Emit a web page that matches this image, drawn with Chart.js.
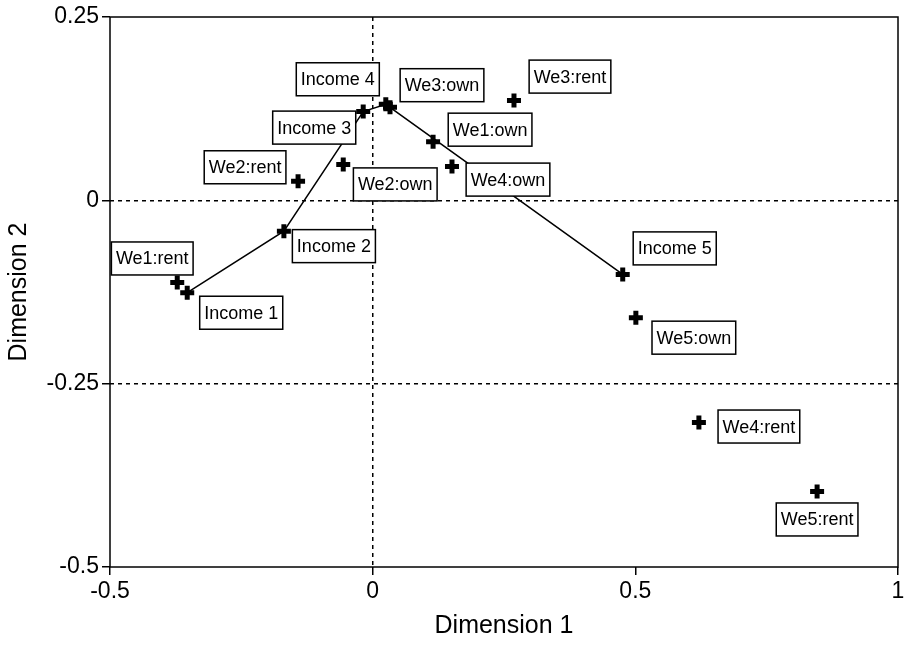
<!DOCTYPE html>
<html>
<head>
<meta charset="utf-8">
<script src="https://cdn.jsdelivr.net/npm/chart.js@4.4.1/dist/chart.umd.min.js"></script>
<style>
  html, body { margin: 0; padding: 0; background: #fff; }
  canvas { display: block; }
</style>
</head>
<body>
<canvas id="mapChart" width="904" height="645"></canvas>
<script>
// Income categories (connected by a line)
const incomeLabels = ["Income 1", "Income 2", "Income 3", "Income 4", "Income 5"];
const incomeX = [-0.353, -0.169, -0.018, 0.025, 0.476];
const incomeY = [-0.126, -0.042, 0.121, 0.131, -0.101];

// Weekly spending x tenure categories
const weLabels = ["We1:rent", "We1:own", "We2:rent", "We2:own", "We3:rent",
                  "We3:own", "We4:rent", "We4:own", "We5:rent", "We5:own"];
const weX = [-0.372, 0.115, -0.142, -0.056, 0.269, 0.033, 0.621, 0.151, 0.846, 0.501];
const weY = [-0.112, 0.080, 0.026, 0.049, 0.136, 0.127, -0.303, 0.046, -0.397, -0.160];

// where each label box sits relative to its point (px)
const incomeBoxOffset = [[54, 20], [50, 15], [-49, 16], [-48, -25], [52, -26]];
const weBoxOffset = [[-25, -24], [57, -12], [-53, -14], [52, 20], [56, -24],
                     [52, -22], [60, 4], [56, 13], [0, 28], [58, 20]];

const FONT = "'Liberation Sans', Arial, Helvetica, sans-serif";

const toPoints = (xs, ys) => xs.map((x, i) => ({ x: x, y: ys[i] }));
const near = (v, t) => Math.abs(v - t) < 1e-9;
const fmt = (v) => String(Number(v.toFixed(2)));

// box around the whole plot
const frame = {
  id: "frame",
  beforeDatasetsDraw(chart) {
    const { ctx, chartArea: a } = chart;
    ctx.save();
    ctx.strokeStyle = "#000";
    ctx.lineWidth = 1.5;
    ctx.strokeRect(a.left, a.top, a.right - a.left, a.bottom - a.top);
    ctx.restore();
  },
};

// boxed text labels next to the points
const boxLabels = {
  id: "boxLabels",
  afterDatasetsDraw(chart) {
    const ctx = chart.ctx;
    ctx.save();
    ctx.font = "18px " + FONT;
    ctx.textAlign = "center";
    ctx.textBaseline = "middle";
    chart.data.datasets.forEach((ds, di) => {
      const meta = chart.getDatasetMeta(di);
      meta.data.forEach((pt, i) => {
        const text = ds.labels[i];
        const off = ds.boxOffset[i];
        const cx = pt.x + off[0];
        const cy = pt.y + off[1];
        const w = ctx.measureText(text).width + 9;
        const h = 33;
        ctx.fillStyle = "#fff";
        ctx.fillRect(cx - w / 2, cy - h / 2, w, h);
        ctx.strokeStyle = "#000";
        ctx.lineWidth = 1.5;
        ctx.strokeRect(cx - w / 2, cy - h / 2, w, h);
        ctx.fillStyle = "#000";
        ctx.fillText(text, cx, cy + 1);
      });
    });
    ctx.restore();
  },
};

new Chart(document.getElementById("mapChart"), {
  type: "scatter",
  data: {
    datasets: [
      {
        label: "Income",
        data: toPoints(incomeX, incomeY),
        labels: incomeLabels,
        boxOffset: incomeBoxOffset,
        showLine: true,
        borderColor: "#000",
        borderWidth: 1.5,
        pointStyle: "cross",
        pointRadius: 7,
        pointBorderWidth: 5,
        pointBorderColor: "#000",
        pointBackgroundColor: "#000",
      },
      {
        label: "We",
        data: toPoints(weX, weY),
        labels: weLabels,
        boxOffset: weBoxOffset,
        showLine: false,
        pointStyle: "cross",
        pointRadius: 7,
        pointBorderWidth: 5,
        pointBorderColor: "#000",
        pointBackgroundColor: "#000",
      },
    ],
  },
  options: {
    responsive: false,
    animation: false,
    devicePixelRatio: 1,
    layout: { autoPadding: false, padding: { top: 17, right: 0, left: 0, bottom: 0 } },
    plugins: {
      legend: { display: false },
      tooltip: { enabled: false },
    },
    scales: {
      x: {
        type: "linear",
        min: -0.5,
        max: 1,
        afterFit: (s) => {
          s.height = 78;
          s.paddingLeft = 0;
          s.paddingRight = 6;
        },
        ticks: { stepSize: 0.5, callback: fmt, color: "#000", font: { family: FONT, size: 23 }, padding: 3, maxRotation: 0 },
        grid: {
          color: (c) => (c.tick && near(c.tick.value, 0) ? "#000" : "rgba(0,0,0,0)"),
          lineWidth: 1.5,
          tickColor: "#000",
          tickWidth: 1.5,
          tickLength: 8,
        },
        border: { display: false, dash: [4, 4] },
        title: { display: true, text: "Dimension 1", color: "#000", font: { family: FONT, size: 25 } },
      },
      y: {
        type: "linear",
        min: -0.5,
        max: 0.25,
        afterFit: (s) => { s.width = 110; },
        ticks: { stepSize: 0.25, callback: fmt, color: "#000", font: { family: FONT, size: 23 }, padding: 3 },
        grid: {
          color: (c) => (c.tick && (near(c.tick.value, 0) || near(c.tick.value, -0.25)) ? "#000" : "rgba(0,0,0,0)"),
          lineWidth: 1.5,
          tickColor: "#000",
          tickWidth: 1.5,
          tickLength: 8,
        },
        border: { display: false, dash: [4, 4] },
        title: { display: true, text: "Dimension 2", color: "#000", font: { family: FONT, size: 25 } },
      },
    },
  },
  plugins: [frame, boxLabels],
});
</script>
</body>
</html>
